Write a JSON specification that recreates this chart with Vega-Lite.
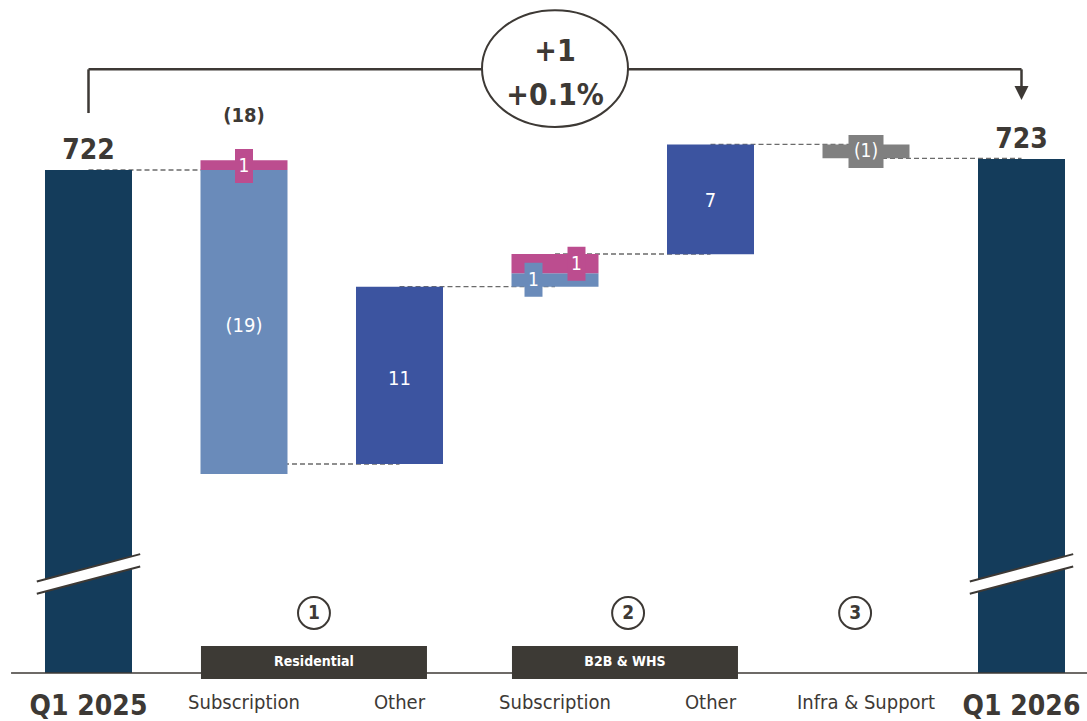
{
  "$schema": "https://vega.github.io/schema/vega-lite/v6.json",
  "width": 1087,
  "height": 673,
  "autosize": {"type": "none"},
  "padding": {"left": 0, "top": 0, "right": 0, "bottom": 48},
  "background": "white",
  "config": {"view": {"stroke": null}, "font": "DejaVu Sans Condensed, DejaVu Sans"},
  "datasets": {
    "bars": [
      {"pos": 0, "start": 690.5625, "end": 722, "kind": "total"},
      {"pos": 1, "start": 722, "end": 722.61, "kind": "pink"},
      {"pos": 1, "start": 722, "end": 703.0, "kind": "light"},
      {"pos": 2, "start": 703.625, "end": 714.71, "kind": "dark"},
      {"pos": 3, "start": 714.71, "end": 715.54, "kind": "light"},
      {"pos": 3, "start": 715.54, "end": 716.75, "kind": "pink"},
      {"pos": 4, "start": 716.73, "end": 723.6, "kind": "dark"},
      {"pos": 5, "start": 723.6, "end": 722.73, "kind": "gray"},
      {"pos": 6, "start": 690.5625, "end": 722.69, "kind": "total"}
    ],
    "cats": [
      {"pos": 0, "label": "Q1 2025", "kind": "total"},
      {"pos": 1, "label": "Subscription", "kind": "step"},
      {"pos": 2, "label": "Other", "kind": "step"},
      {"pos": 3, "label": "Subscription", "kind": "step"},
      {"pos": 4, "label": "Other", "kind": "step"},
      {"pos": 5, "label": "Infra & Support", "kind": "step"},
      {"pos": 6, "label": "Q1 2026", "kind": "total"}
    ],
    "conn": [
      {"x": 0, "x2": 1, "y": 722},
      {"x": 1, "x2": 2, "y": 703.625},
      {"x": 2, "x2": 3, "y": 714.71},
      {"x": 3, "x2": 4, "y": 716.75},
      {"x": 4, "x2": 5, "y": 723.6},
      {"x": 5, "x2": 6, "y": 722.73}
    ],
    "brk": [{"pos": 0, "y": 696.75}, {"pos": 6, "y": 696.75}],
    "boxes": [
      {"pos": 1, "y": 722.25, "text": "1", "kind": "pink", "side": "C"},
      {"pos": 3, "y": 715.14, "text": "1", "kind": "light", "side": "L"},
      {"pos": 3, "y": 716.14, "text": "1", "kind": "pink", "side": "R"},
      {"pos": 5, "y": 723.16, "text": "(1)", "kind": "gray", "side": "G"}
    ],
    "seg": [
      {"pos": 1, "y": 712.25, "text": "(19)"},
      {"pos": 2, "y": 708.94, "text": "11"},
      {"pos": 4, "y": 720.06, "text": "7"}
    ],
    "totals": [
      {"pos": 0, "y": 722, "text": "722"},
      {"pos": 6, "y": 722.69, "text": "723"}
    ],
    "net": [{"pos": 1, "y": 722.61, "text": "(18)"}],
    "groups": [
      {"x": 1.45, "label": "Residential"},
      {"x": 3.45, "label": "B2B & WHS"}
    ],
    "badges": [
      {"x": 1.45, "n": "1"},
      {"x": 3.47, "n": "2"},
      {"x": 4.93, "n": "3"}
    ],
    "bracket": [
      {"x": 0, "x2": 0, "y": 725.56, "y2": 728.29},
      {"x": 0, "x2": 6, "y": 728.29, "y2": 728.29},
      {"x": 6, "x2": 6, "y": 728.29, "y2": 727.05}
    ],
    "arrow": [{"x": 6, "y": 726.81}],
    "change": [{"x": 3, "y": 728.34}],
    "changeText": [
      {"x": 3, "y": 729.375, "t": "+1"},
      {"x": 3, "y": 726.625, "t": "+0.1%"}
    ]
  },
  "layer": [
    {
      "data": {"name": "conn"},
      "mark": {"type": "rule", "strokeDash": [5, 3], "color": "#6b6b6b", "strokeWidth": 1.3},
      "encoding": {
        "x": {"field": "x", "type": "quantitative", "scale": {"domain": [-0.56913, 6.42122], "nice": false, "zero": false, "padding": 0}, "axis": null},
        "x2": {"field": "x2"},
        "y": {"field": "y", "type": "quantitative", "scale": {"domain": [690.5625, 732.625], "nice": false, "zero": false, "padding": 0}, "axis": null}
      }
    },
    {
      "data": {"name": "bars"},
      "mark": {"type": "bar", "width": 87},
      "encoding": {
        "x": {"field": "pos", "type": "quantitative", "axis": null},
        "y": {"field": "start", "type": "quantitative", "axis": null},
        "y2": {"field": "end"},
        "color": {"field": "kind", "type": "nominal", "legend": null,
          "scale": {"domain": ["total", "light", "dark", "pink", "gray"], "range": ["#143c5b", "#6a8bba", "#3c54a0", "#bc4d8f", "#808080"]}}
      }
    },
    {
      "data": {"name": "brk"},
      "mark": {"type": "point", "shape": "M-1,0.145L1,-0.385L1,-0.145L-1,0.383Z", "size": 10690, "filled": true, "fill": "white", "strokeWidth": 0, "opacity": 1},
      "encoding": {
        "x": {"field": "pos", "type": "quantitative", "axis": null},
        "y": {"field": "y", "type": "quantitative", "axis": null}
      }
    },
    {
      "data": {"name": "brk"},
      "mark": {"type": "point", "shape": "M-1,0.145L1,-0.385M-1,0.383L1,-0.145", "size": 10690, "filled": false, "color": "#3d3935", "strokeWidth": 2, "opacity": 1},
      "encoding": {
        "x": {"field": "pos", "type": "quantitative", "axis": null},
        "y": {"field": "y", "type": "quantitative", "axis": null}
      }
    },
    {
      "data": {"name": "boxes"},
      "transform": [{"filter": "datum.side == 'C'"}],
      "mark": {"type": "point", "shape": "M-0.529,-1L0.529,-1L0.529,1L-0.529,1Z", "size": 1156, "filled": true, "opacity": 1, "strokeWidth": 0},
      "encoding": {
        "x": {"field": "pos", "type": "quantitative", "axis": null},
        "y": {"field": "y", "type": "quantitative", "axis": null},
        "color": {"field": "kind", "type": "nominal", "legend": null}
      }
    },
    {
      "data": {"name": "boxes"},
      "transform": [{"filter": "datum.side == 'L'"}],
      "mark": {"type": "point", "shape": "M-0.529,-1L0.529,-1L0.529,1L-0.529,1Z", "size": 1156, "filled": true, "opacity": 1, "strokeWidth": 0, "xOffset": -21.5},
      "encoding": {
        "x": {"field": "pos", "type": "quantitative", "axis": null},
        "y": {"field": "y", "type": "quantitative", "axis": null},
        "color": {"field": "kind", "type": "nominal", "legend": null}
      }
    },
    {
      "data": {"name": "boxes"},
      "transform": [{"filter": "datum.side == 'R'"}],
      "mark": {"type": "point", "shape": "M-0.529,-1L0.529,-1L0.529,1L-0.529,1Z", "size": 1156, "filled": true, "opacity": 1, "strokeWidth": 0, "xOffset": 21.5},
      "encoding": {
        "x": {"field": "pos", "type": "quantitative", "axis": null},
        "y": {"field": "y", "type": "quantitative", "axis": null},
        "color": {"field": "kind", "type": "nominal", "legend": null}
      }
    },
    {
      "data": {"name": "boxes"},
      "transform": [{"filter": "datum.side == 'G'"}],
      "mark": {"type": "point", "shape": "M-1,-0.943L1,-0.943L1,0.943L-1,0.943Z", "size": 1225, "filled": true, "opacity": 1, "strokeWidth": 0},
      "encoding": {
        "x": {"field": "pos", "type": "quantitative", "axis": null},
        "y": {"field": "y", "type": "quantitative", "axis": null},
        "color": {"field": "kind", "type": "nominal", "legend": null}
      }
    },
    {
      "data": {"name": "boxes"},
      "transform": [{"filter": "datum.side == 'C' || datum.side == 'G'"}],
      "mark": {"type": "text", "color": "white", "fontSize": 19, "baseline": "middle", "align": "center"},
      "encoding": {
        "x": {"field": "pos", "type": "quantitative", "axis": null},
        "y": {"field": "y", "type": "quantitative", "axis": null},
        "text": {"field": "text"}
      }
    },
    {
      "data": {"name": "boxes"},
      "transform": [{"filter": "datum.side == 'L'"}],
      "mark": {"type": "text", "color": "white", "fontSize": 19, "baseline": "middle", "align": "center", "xOffset": -21.5},
      "encoding": {
        "x": {"field": "pos", "type": "quantitative", "axis": null},
        "y": {"field": "y", "type": "quantitative", "axis": null},
        "text": {"field": "text"}
      }
    },
    {
      "data": {"name": "boxes"},
      "transform": [{"filter": "datum.side == 'R'"}],
      "mark": {"type": "text", "color": "white", "fontSize": 19, "baseline": "middle", "align": "center", "xOffset": 21.5},
      "encoding": {
        "x": {"field": "pos", "type": "quantitative", "axis": null},
        "y": {"field": "y", "type": "quantitative", "axis": null},
        "text": {"field": "text"}
      }
    },
    {
      "data": {"name": "seg"},
      "mark": {"type": "text", "color": "white", "fontSize": 20, "baseline": "middle", "align": "center"},
      "encoding": {
        "x": {"field": "pos", "type": "quantitative", "axis": null},
        "y": {"field": "y", "type": "quantitative", "axis": null},
        "text": {"field": "text"}
      }
    },
    {
      "data": {"name": "totals"},
      "mark": {"type": "text", "color": "#3d3935", "fontSize": 28, "fontWeight": "bold", "baseline": "alphabetic", "align": "center", "dy": -11},
      "encoding": {
        "x": {"field": "pos", "type": "quantitative", "axis": null},
        "y": {"field": "y", "type": "quantitative", "axis": null},
        "text": {"field": "text"}
      }
    },
    {
      "data": {"name": "net"},
      "mark": {"type": "text", "color": "#3d3935", "fontSize": 20, "fontWeight": "bold", "baseline": "alphabetic", "align": "center", "dy": -38},
      "encoding": {
        "x": {"field": "pos", "type": "quantitative", "axis": null},
        "y": {"field": "y", "type": "quantitative", "axis": null},
        "text": {"field": "text"}
      }
    },
    {
      "data": {"values": [{}]},
      "mark": {"type": "rule", "color": "#3d3935", "strokeWidth": 1.5},
      "encoding": {
        "x": {"datum": -0.498, "type": "quantitative", "axis": null},
        "x2": {"datum": 6.42122},
        "y": {"datum": 690.5625, "type": "quantitative", "axis": null}
      }
    },
    {
      "data": {"name": "cats"},
      "transform": [{"filter": "datum.kind == 'total'"}],
      "mark": {"type": "text", "color": "#3d3935", "fontSize": 28, "fontWeight": "bold", "baseline": "alphabetic", "align": "center"},
      "encoding": {
        "x": {"field": "pos", "type": "quantitative", "axis": null},
        "y": {"datum": 687.94, "type": "quantitative", "axis": null},
        "text": {"field": "label"}
      }
    },
    {
      "data": {"name": "cats"},
      "transform": [{"filter": "datum.kind == 'step'"}],
      "mark": {"type": "text", "color": "#3d3935", "fontSize": 20, "baseline": "alphabetic", "align": "center"},
      "encoding": {
        "x": {"field": "pos", "type": "quantitative", "axis": null},
        "y": {"datum": 688.31, "type": "quantitative", "axis": null},
        "text": {"field": "label"}
      }
    },
    {
      "data": {"name": "groups"},
      "mark": {"type": "bar", "width": 226, "color": "#3d3a35"},
      "encoding": {
        "x": {"field": "x", "type": "quantitative", "axis": null},
        "y": {"datum": 692.25, "type": "quantitative", "axis": null},
        "y2": {"datum": 690.19}
      }
    },
    {
      "data": {"name": "groups"},
      "mark": {"type": "text", "color": "white", "fontSize": 14, "fontWeight": "bold", "baseline": "middle", "align": "center"},
      "encoding": {
        "x": {"field": "x", "type": "quantitative", "axis": null},
        "y": {"datum": 691.25, "type": "quantitative", "axis": null},
        "text": {"field": "label"}
      }
    },
    {
      "data": {"name": "badges"},
      "mark": {"type": "point", "shape": "circle", "size": 1018, "filled": true, "fill": "white", "stroke": "#3d3935", "strokeWidth": 2, "opacity": 1},
      "encoding": {
        "x": {"field": "x", "type": "quantitative", "axis": null},
        "y": {"datum": 694.31, "type": "quantitative", "axis": null}
      }
    },
    {
      "data": {"name": "badges"},
      "mark": {"type": "text", "color": "#3d3935", "fontSize": 19, "fontWeight": "bold", "baseline": "middle", "align": "center"},
      "encoding": {
        "x": {"field": "x", "type": "quantitative", "axis": null},
        "y": {"datum": 694.31, "type": "quantitative", "axis": null},
        "text": {"field": "n"}
      }
    },
    {
      "data": {"name": "bracket"},
      "mark": {"type": "rule", "color": "#3d3935", "strokeWidth": 2.5},
      "encoding": {
        "x": {"field": "x", "type": "quantitative", "axis": null},
        "x2": {"field": "x2"},
        "y": {"field": "y", "type": "quantitative", "axis": null},
        "y2": {"field": "y2"}
      }
    },
    {
      "data": {"name": "arrow"},
      "mark": {"type": "point", "shape": "M-1,-1L1,-1L0,1Z", "size": 196, "filled": true, "color": "#3d3935", "opacity": 1},
      "encoding": {
        "x": {"field": "x", "type": "quantitative", "axis": null},
        "y": {"field": "y", "type": "quantitative", "axis": null}
      }
    },
    {
      "data": {"name": "change"},
      "mark": {"type": "point", "shape": "M-1,0C-1,-0.442,-0.552,-0.8,0,-0.8C0.552,-0.8,1,-0.442,1,0C1,0.442,0.552,0.8,0,0.8C-0.552,0.8,-1,0.442,-1,0Z", "size": 21316, "filled": true, "fill": "white", "stroke": "#3d3935", "strokeWidth": 2, "opacity": 1},
      "encoding": {
        "x": {"field": "x", "type": "quantitative", "axis": null},
        "y": {"field": "y", "type": "quantitative", "axis": null}
      }
    },
    {
      "data": {"name": "changeText"},
      "mark": {"type": "text", "color": "#3d3935", "fontSize": 30, "fontWeight": "bold", "baseline": "middle", "align": "center"},
      "encoding": {
        "x": {"field": "x", "type": "quantitative", "axis": null},
        "y": {"field": "y", "type": "quantitative", "axis": null},
        "text": {"field": "t"}
      }
    }
  ]
}
